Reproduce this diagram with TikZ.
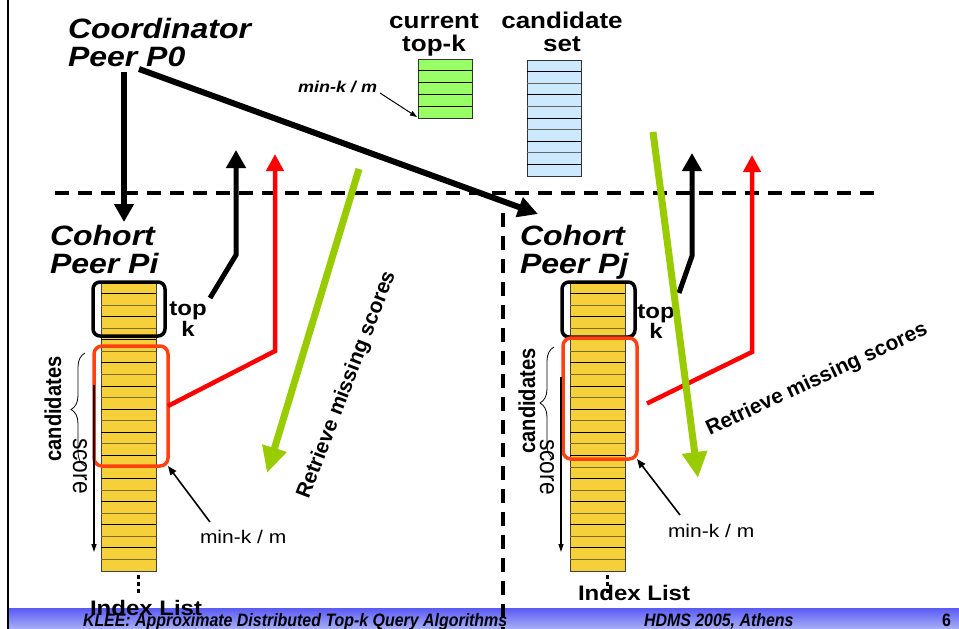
\documentclass[tikz,border=0pt]{standalone}
\usepackage{fontspec}
\setmainfont{Liberation Sans}
\usepackage{graphicx}
\usetikzlibrary{arrows.meta,decorations.pathreplacing,calc}

% text is set slightly compressed vertically
\newcommand\vsq[1]{\scalebox{1}[0.874]{#1}}
\newcommand\hsq[1]{\scalebox{0.874}[1]{#1}}
\newcommand\fsz[2]{\fontsize{#1}{#2}\selectfont}

\definecolor{cellyellow}{HTML}{F5D03A}
\definecolor{cellolive}{HTML}{7A6A28}
\definecolor{topgreen}{HTML}{99FF66}
\definecolor{candblue}{HTML}{CCE9FF}
\definecolor{boxred}{HTML}{FF4010}
\definecolor{lime}{HTML}{99CC00}
\definecolor{foottop}{RGB}{90,90,245}
\definecolor{footbot}{RGB}{168,176,246}

\tikzset{
  lbl/.style={inner sep=0pt, outer sep=0pt},
  column/.style={draw=black!75, line width=0.8pt, fill=cellyellow,
    minimum width=55pt, minimum height=289pt, inner sep=0pt, outer sep=0pt},
  tablebox/.style={draw=black!80, line width=0.9pt, minimum width=54pt,
    inner sep=0pt, outer sep=0pt},
  topkframe/.style={draw=black, line width=3.5pt, rounded corners=7pt,
    inner sep=0pt, outer sep=0pt},
  candframe/.style={draw=boxred, line width=3.5pt, rounded corners=8pt,
    inner sep=0pt, outer sep=0pt},
  sepline/.style={line width=4pt, dash pattern=on 14pt off 9pt},
  msg/.style={line width=5.5pt, -{Triangle[length=18pt,width=19pt]}},
  reply/.style={red, line width=4.5pt, -{Triangle[length=17pt,width=17pt]}},
  fetch/.style={lime, line width=7pt, -{Triangle[length=26pt,width=24pt]}},
  thinarrow/.style={line width=1.6pt, -{Triangle[length=9pt,width=7pt]}},
  scorearrow/.style={line width=1.2pt, -{Triangle[length=8pt,width=5pt]}},
  cbrace/.style={decorate, decoration={brace, amplitude=14pt}, line width=0.8pt},
}

\begin{document}
\begin{tikzpicture}[x=1pt, y=-1pt]
\useasboundingbox (0,0) rectangle (959,629);
\fill[white] (0,0) rectangle (959,629);

% slide frame on the left
\draw[line width=2pt] (8,0) -- (8,629);

% coordinator-side tables
\node[tablebox, fill=topgreen, minimum height=59pt, anchor=north west] (topkbox) at (418,59) {};
\foreach \i in {1,...,4}{
  \draw[line width=0.9pt] ($(topkbox.north west)+(0,\i*11.8)$) -- ++(54,0);
}
\node[tablebox, fill=candblue, minimum height=116pt, anchor=north west] (candbox) at (527,60) {};
\foreach \i in {1,...,9}{
  \ifodd\i \def\rc{black}\else\def\rc{black!60}\fi
  \draw[\rc, line width=0.9pt] ($(candbox.north west)+(0,\i*11.6)$) -- ++(54,0);
}

\node[lbl, anchor=base] (curlbl) at (434,28)
  {\vsq{\fsz{26}{27}\bfseries\begin{tabular}[t]{@{}c@{}}current\\top-k\end{tabular}}};
\node[lbl, anchor=base] (candlbl) at (562,28)
  {\vsq{\fsz{26}{27}\bfseries\begin{tabular}[t]{@{}c@{}}candidate\\set\end{tabular}}};
\node[lbl, anchor=base west] (minks) at (298,92)
  {\vsq{\fsz{18}{18}\bfseries\itshape min-k / m}};
\coordinate (minksA) at (380,93);
\coordinate (minksB) at (417,117);
\draw[line width=1pt, -{Triangle[length=7pt,width=5pt]}] (minksA) -- (minksB);

% index lists of the two cohort peers
\foreach \cx/\cn in {101/colI, 570/colJ}{
  \node[column, anchor=north west] (\cn) at (\cx,282) {};
  \foreach \i in {1,...,24}{
    \ifodd\i \def\rc{black}\else\def\rc{cellolive}\fi
    \draw[\rc, line width=0.9pt] ($(\cn.north west)+(0,\i*11.56)$) -- ++(55,0);
  }
}

% continuation dots below the lists
\foreach \dy in {575,582,589}{
  \fill (136.5,\dy) rectangle ++(3.5,3.5);
  \fill (605.5,\dy) rectangle ++(3.5,3.5);
}

% top-k and candidate frames
\node[topkframe, minimum width=72pt, minimum height=54pt] (topkI) at (129,309) {};
\node[candframe, minimum width=74pt, minimum height=120pt] (candI) at (131,406) {};
\node[topkframe, minimum width=73pt, minimum height=55pt] (topkJ) at (598.5,309.5) {};
\node[candframe, minimum width=74pt, minimum height=121pt] (candJ) at (600,398.5) {};

% peer titles
\node[lbl, anchor=base west] (coord) at (68,38)
  {\vsq{\fsz{32}{33}\bfseries\itshape\begin{tabular}[t]{@{}l@{}}Coordinator\\Peer P0\end{tabular}}};
\node[lbl, anchor=base west] (cohortI) at (50,245)
  {\vsq{\fsz{32}{32}\bfseries\itshape\begin{tabular}[t]{@{}l@{}}Cohort\\Peer Pi\end{tabular}}};
\node[lbl, anchor=base west] (cohortJ) at (520,245)
  {\vsq{\fsz{32}{30}\bfseries\itshape\begin{tabular}[t]{@{}l@{}}Cohort\\Peer Pj\end{tabular}}};

% top-k labels
\node[lbl, anchor=base] (tkI) at (188,315)
  {\vsq{\fsz{24}{24}\bfseries\begin{tabular}[t]{@{}c@{}}top\\k\end{tabular}}};
\node[lbl, anchor=base] (tkJ) at (656,318)
  {\vsq{\fsz{24}{22}\bfseries\begin{tabular}[t]{@{}c@{}}top\\k\end{tabular}}};

% candidates braces and labels
\draw[cbrace] (85,466) -- (85,353);
\draw[cbrace] (554,459) -- (554,347);
\node[lbl, rotate=90] (candtI) at (53,409) {\hsq{\fsz{23}{23}\bfseries candidates}};
\node[lbl, rotate=90] (candtJ) at (527,401) {\hsq{\fsz{23}{23}\bfseries candidates}};

% score direction
\node[lbl, rotate=-90] (scI) at (80,466) {\hsq{\fsz{26}{26}score}};
\node[lbl, rotate=-90] (scJ) at (547,467) {\hsq{\fsz{26}{26}score}};
\coordinate (scIa) at (94,385);  \coordinate (scIb) at (94,552);
\coordinate (scJa) at (561,377); \coordinate (scJb) at (561,552);
\draw[scorearrow] (scIa) -- (scIb);
\draw[scorearrow] (scJa) -- (scJb);

% min-k / m threshold markers
\node[lbl, anchor=base west] (minkI) at (200,543) {\vsq{\fsz{21}{21}min-k / m}};
\node[lbl, anchor=base west] (minkJ) at (668,537) {\vsq{\fsz{21}{21}min-k / m}};
\coordinate (mkIa) at (210,522); \coordinate (mkJa) at (680,515);
\draw[thinarrow] (mkIa) -- (candI.south east);
\draw[thinarrow] (mkJa) -- (candJ.south east);

% separators
\draw[sepline] (55,193) -- (875,193);

% footer band
\shade[top color=foottop, bottom color=footbot] (9,608) rectangle (959,629);
\draw[sepline] (503,213) -- (503,629);
\node[lbl, anchor=base west] (ftitle) at (83,626)
  {\scalebox{0.885}[1]{\fsz{18}{18}\bfseries\itshape KLEE: Approximate Distributed Top-k Query Algorithms}};
\node[lbl, anchor=base west] (fconf) at (644,626)
  {\scalebox{0.885}[1]{\fsz{18}{18}\bfseries\itshape HDMS 2005, Athens}};
\node[lbl, anchor=base west] (fpage) at (942,626)
  {\scalebox{0.885}[1]{\fsz{18}{18}\bfseries 6}};

% index list captions
\node[lbl, anchor=base west] (ilI) at (90,615) {\vsq{\fsz{24}{24}\bfseries Index List}};
\node[lbl, anchor=base west] (ilJ) at (578,600) {\vsq{\fsz{24}{24}\bfseries Index List}};

% coordinator requests
\coordinate (c0down) at (124,72);
\coordinate (cIin) at (124,222);
\coordinate (c0diag) at (139,69);
\coordinate (cJin) at (538,214);
\draw[msg] (c0down) -- (cIin);
\draw[msg, line width=6pt, -{Triangle[length=20pt,width=20pt]}] (c0diag) -- (cJin);

% top-k replies
\coordinate (tkIa) at (210,298); \coordinate (tkIb) at (236,255); \coordinate (tkIc) at (236,150);
\coordinate (tkJa) at (679,293); \coordinate (tkJb) at (692,256); \coordinate (tkJc) at (692,153);
\draw[msg, line width=5pt] (tkIa) -- (tkIb) -- (tkIc);
\draw[msg, line width=5pt] (tkJa) -- (tkJb) -- (tkJc);

% candidate replies
\coordinate (rIb) at (275,351); \coordinate (rIc) at (275,154);
\coordinate (rJb) at (752,352); \coordinate (rJc) at (752,155);
\draw[reply] (candI.east) -- (rIb) -- (rIc);
\draw[reply] ($(candJ.east)+(10,5)$) -- (rJb) -- (rJc);

% retrieval of missing scores
\coordinate (gIa) at (359,169); \coordinate (gIb) at (267,473);
\coordinate (gJa) at (653,132); \coordinate (gJb) at (698,478);
\draw[fetch] (gIa) -- (gIb);
\draw[fetch] (gJa) -- (gJb);
\node[lbl, rotate=69] (retrI) at (347,385) {\fsz{21}{21}\bfseries Retrieve missing scores};
\node[lbl, rotate=25] (retrJ) at (817,380) {\fsz{21}{21}\bfseries Retrieve missing scores};
\end{tikzpicture}
\end{document}
